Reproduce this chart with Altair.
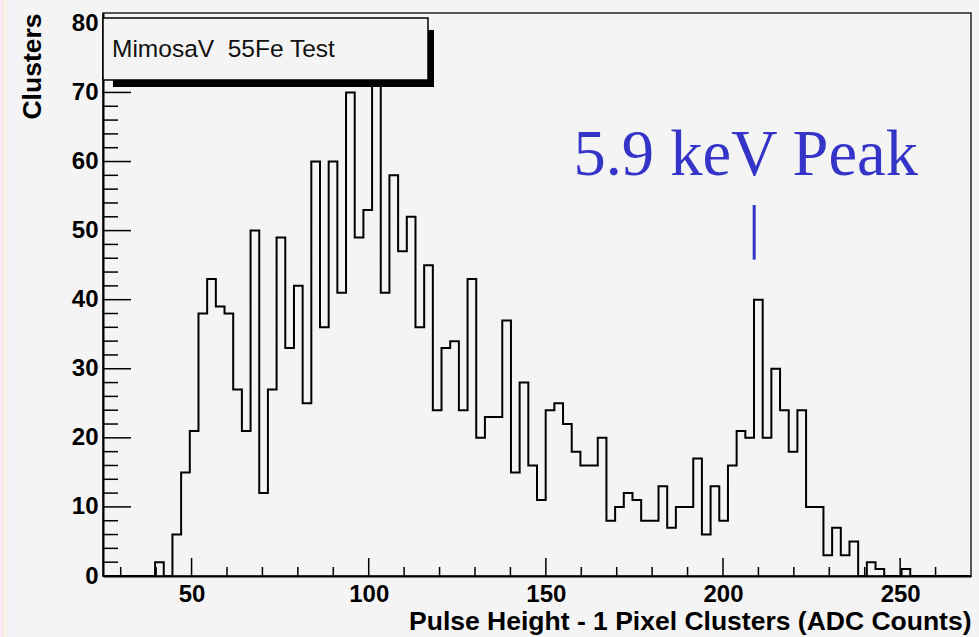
import altair as alt
import pandas as pd

# ---------------- data ----------------
BIN_START = 25.0
BIN_WIDTH = 2.45
counts = [
    0, 0, 0, 0, 0, 0,
    2, 0, 6, 15, 21, 38, 43, 39, 38, 27, 21, 50, 12, 27, 49, 33, 42, 25,
    60, 36, 60, 41, 70, 49, 53, 78, 41, 58, 47, 52, 36, 45, 24, 33, 34,
    24, 43, 20, 23, 23, 37, 15, 28, 16, 11,
    24, 25, 22, 18, 16, 16, 20, 8, 10, 12, 11, 8, 8, 13, 7, 10, 10, 17, 6, 13,
    8, 16, 21, 20, 40, 20, 30, 24, 18, 24, 10, 10, 3, 7, 3, 5, 0, 2, 1, 0, 0, 1,
    0, 0, 0, 0, 0, 0, 0,
]
x_major = [50, 100, 150, 200, 250]
x_minor = [30, 40, 60, 70, 80, 90, 110, 120, 130, 140, 160, 170, 180, 190,
           210, 220, 230, 240, 260]
y_major = [0, 10, 20, 30, 40, 50, 60, 70, 80]
y_minor = [2, 4, 6, 8, 12, 14, 16, 18, 22, 24, 26, 28, 32, 34, 36, 38, 42, 44,
           46, 48, 52, 54, 56, 58, 62, 64, 66, 68, 72, 74, 76, 78]
legend_text = "MimosaV\u00a0 55Fe Test"
peak_text = "5.9 keV Peak"
peak_label = {"x": 206.4, "y": 58.1}
peak_marker = {"x": 208.8, "y": 45.8, "y2": 53.7}

# ---------------- tables ----------------
n = len(counts)
edges = [BIN_START + BIN_WIDTH * k for k in range(n + 1)]
hist_df = pd.DataFrame({"edge": edges, "count": counts + [counts[-1]]})
xmaj_df = pd.DataFrame({"edge": x_major})
xmin_df = pd.DataFrame({"edge": x_minor})
ymaj_df = pd.DataFrame({"count": y_major})
ymin_df = pd.DataFrame({"count": y_minor})
one = pd.DataFrame({"k": [0]})
lab_df = pd.DataFrame({"edge": [peak_label["x"]], "count": [peak_label["y"]], "t": [peak_text]})
mark_df = pd.DataFrame({"edge": [peak_marker["x"]], "count": [peak_marker["y"]], "c2": [peak_marker["y2"]]})

W, H = 868, 563
xs = alt.Scale(domain=[25, 270], nice=False, zero=False)
ys = alt.Scale(domain=[0, 81.5], nice=False, zero=True)
FONT = "Liberation Sans"
BLUE = "#3434c8"
XT = "Pulse Height - 1 Pixel Clusters (ADC Counts)"
YT = "Clusters"

XAX = alt.Axis(
    values=x_major, ticks=False, grid=False, domainColor="black", domainWidth=2,
    labelFont=FONT, labelFontWeight="bold", labelFontSize=24, labelColor="black",
    labelPadding=6, labelFlush=False, format="d",
    titleFont=FONT, titleFontWeight="bold", titleFontSize=26.5, titleColor="black",
    titleX=W, titleY=53, titleAlign="right", titleBaseline="alphabetic",
)
YAX = alt.Axis(
    values=y_major, ticks=False, grid=False, domainColor="black", domainWidth=2,
    labelFont=FONT, labelFontWeight="bold", labelFontSize=24, labelColor="black",
    labelPadding=5, format="d",
    titleFont=FONT, titleFontWeight="bold", titleFontSize=26.5, titleColor="black",
    titleAngle=270, titleX=-71, titleY=0, titleAlign="right", titleBaseline="middle",
)


def xenc(field="edge:Q"):
    return alt.X(field, scale=xs, axis=XAX, title=XT)


def yenc(field="count:Q"):
    return alt.Y(field, scale=ys, axis=YAX, title=YT)


hist = alt.Chart(hist_df).mark_line(
    interpolate="step-after", color="black", strokeWidth=2
).encode(x=xenc(), y=yenc())

xmaj = alt.Chart(xmaj_df).mark_rule(color="black", strokeWidth=1.5).encode(
    x=xenc(), y=alt.value(H), y2=alt.value(H - 18))
xmin = alt.Chart(xmin_df).mark_rule(color="black", strokeWidth=1.5).encode(
    x=xenc(), y=alt.value(H), y2=alt.value(H - 9))
ymaj = alt.Chart(ymaj_df).mark_rule(color="black", strokeWidth=1.5).encode(
    y=yenc(), x=alt.value(0), x2=alt.value(28))
ymin = alt.Chart(ymin_df).mark_rule(color="black", strokeWidth=1.5).encode(
    y=yenc(), x=alt.value(0), x2=alt.value(15))

# faint scan-edge colour bands on the far left
band1 = alt.Chart(one).mark_rect(color="#fbe9f0").encode(
    x=alt.value(-103), x2=alt.value(-99), y=alt.value(-13), y2=alt.value(H + 61))
band2 = alt.Chart(one).mark_rect(color="#f8f7e4").encode(
    x=alt.value(-99), x2=alt.value(-96), y=alt.value(-13), y2=alt.value(H + 61))
band3 = alt.Chart(one).mark_rect(color="#f3f1f7").encode(
    x=alt.value(-96), x2=alt.value(-88), y=alt.value(-13), y2=alt.value(H + 61))

shadow = alt.Chart(one).mark_rect(color="black").encode(
    x=alt.value(10), x2=alt.value(331), y=alt.value(17), y2=alt.value(74))
box = alt.Chart(one).mark_rect(fill="#f4f4f4", stroke="black", strokeWidth=1.5).encode(
    x=alt.value(0), x2=alt.value(325), y=alt.value(5), y2=alt.value(67))
legend = alt.Chart(one).mark_text(
    text=legend_text, font=FONT, fontSize=24.5, color="#111111",
    align="left", baseline="alphabetic").encode(x=alt.value(9), y=alt.value(44))

peak = alt.Chart(lab_df).mark_text(
    font="Liberation Serif", fontSize=64.5, color=BLUE, align="center", baseline="alphabetic"
).encode(x=xenc(), y=yenc(), text="t:N")
marker = alt.Chart(mark_df).mark_rule(color=BLUE, strokeWidth=3).encode(
    x=xenc(), y=yenc(), y2="c2:Q")

chart = alt.layer(
    band1, band2, band3, hist, xmin, xmaj, ymin, ymaj, shadow, box, legend, peak, marker
).properties(
    width=W, height=H,
    autosize=alt.AutoSizeParams(type="none"),
    padding={"left": 103, "top": 13, "right": 8, "bottom": 61},
    background="#f4f4f4",
).configure_view(
    stroke="#222222", strokeWidth=1.5, fill="#f4f4f4"
)

chart.save("out.html", embed_options={"renderer": "svg", "actions": False})
